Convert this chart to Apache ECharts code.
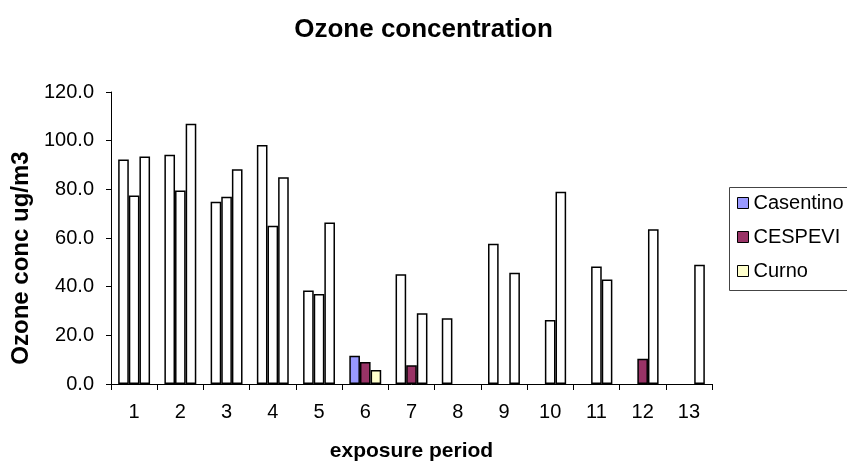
<!DOCTYPE html>
<html>
<head>
<meta charset="utf-8">
<title>Ozone concentration</title>
<script src="https://cdn.jsdelivr.net/npm/echarts@6/dist/echarts.min.js"></script>
<style>
    html, body { margin: 0; padding: 0; background: #fff; }
    #chartContainer { width: 847px; height: 462px; }
</style>
</head>
<body>
<div id="chartContainer"></div>
<script>
// exposure periods on the x axis
const periods = ['1', '2', '3', '4', '5', '6', '7', '8', '9', '10', '11', '12', '13'];

// ozone concentration, ug/m3 (null = no measurement)
const casentino = [92.3, 94.2, 74.9, 98.2, 38.4, 11.6, 45.1, 27.0, 57.6, null, null, null, null];
const cespevi   = [77.5, 79.5, 77.0, 65.0, 37.0, 9.0, 7.7, null, null, 26.3, 48.3, 10.4, null];
const curno     = [93.5, 107.0, 88.3, 85.0, 66.4, 5.8, 29.1, null, 45.7, 79.0, 42.9, 63.6, 49.0];

// periods whose bar keeps the series colour, every other bar is drawn white
const casentinoColoured = ['6'];
const cespeviColoured = ['6', '7', '12'];
const curnoColoured = ['6'];

const FONT = '"Liberation Sans", Arial, sans-serif';

function makeBars(values, coloured) {
    return values.map((v, i) => {
        if (coloured.indexOf(periods[i]) >= 0) return v;
        return { value: v, itemStyle: { color: '#ffffff' } };
    });
}

function barSeries(name, color, values, coloured) {
    return {
        name: name,
        type: 'bar',
        barGap: '0%',
        barCategoryGap: '31%',
        itemStyle: {
            color: color,
            borderColor: '#000',
            borderWidth: 1.5
        },
        emphasis: { disabled: true },
        data: makeBars(values, coloured)
    };
}

let chartOption = {
    animation: false,
    textStyle: { fontFamily: FONT },
    title: {
        text: 'Ozone concentration',
        left: 'center',
        top: 12,
        textStyle: { fontSize: 26, fontWeight: 'bold', color: '#000', fontFamily: FONT }
    },
    grid: { left: 111, top: 92, width: 601, height: 292, outerBoundsMode: 'none' },
    // legend frame, open on the right where the original is cut off
    graphic: [{
        type: 'polyline',
        shape: { points: [[900, 187.5], [729.5, 187.5], [729.5, 290.5], [900, 290.5]] },
        style: { fill: null, stroke: '#444', lineWidth: 1 },
        silent: true
    }],
    legend: {
        orient: 'vertical',
        left: 737,
        top: 193,
        padding: 0,
        itemGap: 14,
        itemWidth: 11,
        itemHeight: 11,
        itemTextGap: 4,
        icon: 'rect',
        itemStyle: { borderColor: '#000', borderWidth: 1 },
        textStyle: { fontSize: 20, color: '#000', fontFamily: FONT },
        selectedMode: false,
        data: ['Casentino', 'CESPEVI', 'Curno']
    },
    xAxis: {
        type: 'category',
        data: periods,
        name: 'exposure period',
        nameLocation: 'middle',
        nameGap: 57,
        nameTextStyle: { fontSize: 21, fontWeight: 'bold', color: '#000', fontFamily: FONT },
        axisLine: { lineStyle: { color: '#000', width: 1 } },
        axisTick: { show: true, length: 6, lineStyle: { color: '#000' } },
        axisLabel: { fontSize: 20, color: '#000', margin: 18, fontFamily: FONT },
        splitLine: { show: false }
    },
    yAxis: {
        type: 'value',
        min: 0,
        max: 120,
        interval: 20,
        name: 'Ozone conc ug/m3',
        nameLocation: 'middle',
        nameGap: 76,
        nameRotate: 90,
        nameTextStyle: {
            fontSize: 24, fontWeight: 'bold', color: '#000', fontFamily: FONT,
            padding: [0, 40, 0, 0]
        },
        axisLine: { show: true, lineStyle: { color: '#000', width: 1 } },
        axisTick: { show: true, length: 5, lineStyle: { color: '#000' } },
        axisLabel: {
            fontSize: 20, color: '#000', margin: 17, fontFamily: FONT,
            formatter: v => v.toFixed(1)
        },
        splitLine: { show: false }
    },
    series: [
        barSeries('Casentino', '#9999ff', casentino, casentinoColoured),
        barSeries('CESPEVI', '#993366', cespevi, cespeviColoured),
        barSeries('Curno', '#ffffcc', curno, curnoColoured)
    ]
};

const mychart = echarts.init(document.getElementById('chartContainer'));
mychart.setOption(chartOption);
</script>
</body>
</html>
